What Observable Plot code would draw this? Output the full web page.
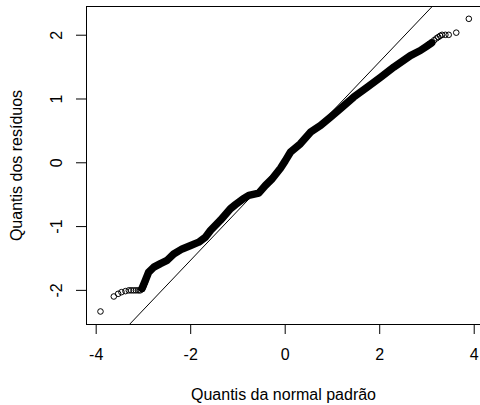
<!DOCTYPE html>
<html>
<head>
<meta charset="utf-8">
<script src="https://cdn.jsdelivr.net/npm/d3@7"></script>
<script src="https://cdn.jsdelivr.net/npm/@observablehq/plot@0.6"></script>
<style>
  html, body { margin: 0; padding: 0; background: #fff; overflow: hidden; }
</style>
</head>
<body>
<div id="chart"></div>
<script>
// Axis ticks and labels
const xTicks = [-4, -2, 0, 2, 4];
const yTicks = [-2, -1, 0, 1, 2];
const xDomain = [-4.205, 4.133];
const yDomain = [-2.535, 2.45];
const xTitle = "Quantis da normal padrão";
const yTitle = "Quantis dos resíduos";

// Dense band of overlapping points (theoretical quantile, sample quantile)
const bandX = [-3.03, -2.96, -2.89, -2.78, -2.64, -2.50, -2.36, -2.18, -2.00, -1.83, -1.69, -1.58, -1.37, -1.16, -1.05, -0.90, -0.77, -0.56, -0.42, -0.275, -0.10, 0.0, 0.11, 0.32, 0.535, 0.75, 0.96, 1.17, 1.45, 1.735, 2.02, 2.30, 2.65, 2.86, 3.00, 3.10];
const bandY = [-1.97, -1.845, -1.715, -1.636, -1.58, -1.53, -1.43, -1.35, -1.296, -1.244, -1.166, -1.06, -0.90, -0.72, -0.654, -0.57, -0.51, -0.476, -0.356, -0.251, -0.085, 0.03, 0.166, 0.298, 0.48, 0.585, 0.715, 0.85, 1.03, 1.185, 1.342, 1.50, 1.68, 1.76, 1.83, 1.88];

// Individually visible tail points
const tailX = [-3.909, -3.627, -3.535, -3.465, -3.38, -3.31, -3.26, -3.21, -3.16, -3.11, -3.07, -3.03, -3.00, -2.97,
               3.05, 3.10, 3.15, 3.20, 3.24, 3.28, 3.32, 3.39, 3.46, 3.62, 3.886];
const tailY = [-2.331, -2.096, -2.054, -2.028, -2.012, -2.0, -2.0, -2.0, -2.0, -2.0, -2.0, -1.98, -1.93, -1.88,
               1.86, 1.89, 1.92, 1.95, 1.97, 1.99, 2.006, 2.006, 2.006, 2.04, 2.257];

// Reference (qqline) parameters
const refIntercept = 0.03;
const refSlope = 0.778;
const refX = [-5, 5];

const band = bandX.map((x, i) => ({x, y: bandY[i]}));
const tail = tailX.map((x, i) => ({x, y: tailY[i]}));
const ref = refX.map(x => ({x, y: refIntercept + refSlope * x}));

const chart = Plot.plot({
  width: 480,
  height: 405,
  marginLeft: 86,
  marginRight: 0,
  marginTop: 6,
  marginBottom: 81,
  style: {fontFamily: "'Liberation Sans', Arial, sans-serif", fontSize: "16px", background: "#fff", color: "#000"},
  x: {domain: xDomain},
  y: {domain: yDomain},
  marks: [
    Plot.line(ref, {x: "x", y: "y", stroke: "#000", strokeWidth: 1, clip: true}),
    Plot.line(band, {x: "x", y: "y", stroke: "#000", strokeWidth: 7.5, strokeLinejoin: "round", strokeLinecap: "round"}),
    Plot.dot(tail, {x: "x", y: "y", r: 2.8, stroke: "#000", strokeWidth: 1, fill: "none"}),
    Plot.ruleX([xDomain[0]], {stroke: "#000"}),
    Plot.ruleY(yDomain, {stroke: "#000"}),
    Plot.axisX({ticks: xTicks, tickSize: 10, tickPadding: 14, fontSize: 16, tickFormat: d => String(d), label: null, stroke: "#000"}),
    Plot.axisY({ticks: yTicks, tickSize: 10, tickFormat: () => "", label: null, stroke: "#000"}),
    Plot.text(yTicks, {y: d => d, text: d => String(d), frameAnchor: "left", dx: -30, rotate: -90, fontSize: 16, textAnchor: "middle", lineAnchor: "middle", fill: "#000"}),
    Plot.text([xTitle], {frameAnchor: "bottom", dy: 70.3, fontSize: 16, lineAnchor: "middle", fill: "#000"}),
    Plot.text([yTitle], {frameAnchor: "left", dx: -69.6, rotate: -90, fontSize: 16, textAnchor: "middle", lineAnchor: "middle", fill: "#000"})
  ]
});
document.getElementById("chart").appendChild(chart);
</script>
</body>
</html>
